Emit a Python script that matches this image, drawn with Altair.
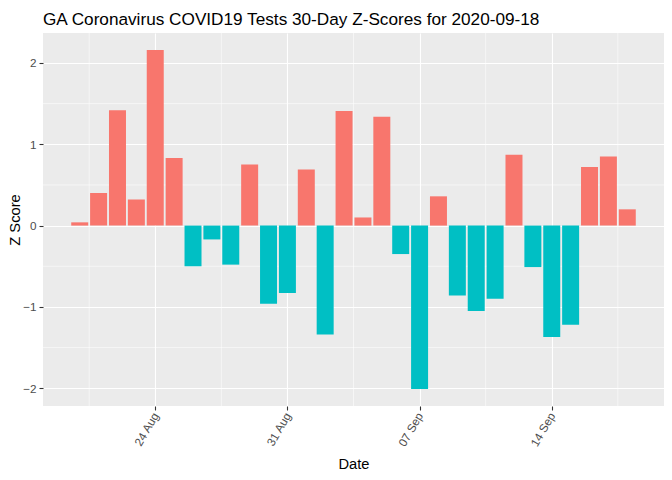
import altair as alt
import pandas as pd

# ---- data ----
dates = [
    "2020-08-20", "2020-08-21", "2020-08-22", "2020-08-23", "2020-08-24",
    "2020-08-25", "2020-08-26", "2020-08-27", "2020-08-28", "2020-08-29",
    "2020-08-30", "2020-08-31", "2020-09-01", "2020-09-02", "2020-09-03",
    "2020-09-04", "2020-09-05", "2020-09-06", "2020-09-07", "2020-09-08",
    "2020-09-09", "2020-09-10", "2020-09-11", "2020-09-12", "2020-09-13",
    "2020-09-14", "2020-09-15", "2020-09-16", "2020-09-17", "2020-09-18",
]
z_scores = [
    0.04, 0.40, 1.42, 0.32, 2.16,
    0.83, -0.50, -0.17, -0.48, 0.75,
    -0.96, -0.83, 0.69, -1.34, 1.41,
    0.10, 1.34, -0.35, -2.01, 0.36,
    -0.86, -1.05, -0.90, 0.87, -0.51,
    -1.37, -1.22, 0.72, 0.85, 0.20,
]
tick_dates = ["2020-08-24", "2020-08-31", "2020-09-07", "2020-09-14"]
minor_x_dates = ["2020-08-20 12:00", "2020-08-27 12:00", "2020-09-03 12:00",
                 "2020-09-10 12:00", "2020-09-17 12:00"]
y_ticks = [-2, -1, 0, 1, 2]
y_minor = [-1.5, -0.5, 0.5, 1.5]

title_text = "GA Coronavirus COVID19 Tests 30-Day Z-Scores for 2020-09-18"

# ---- build tables ----
origin = pd.Timestamp(dates[0])
def day_of(s):
    return (pd.Timestamp(s) - origin) / pd.Timedelta(days=1)

df = pd.DataFrame({"date": dates, "z": z_scores})
df["day"] = [day_of(d) for d in dates]
df["sign"] = ["pos" if v >= 0 else "neg" for v in z_scores]

tick_vals = [day_of(d) for d in tick_dates]
tick_labels = [pd.Timestamp(d).strftime("%d %b") for d in tick_dates]
label_map = "{" + ",".join(f"'{int(v)}':'{l}'" for v, l in zip(tick_vals, tick_labels)) + "}"

minor_x = pd.DataFrame({"day": [day_of(d) for d in minor_x_dates]})
minor_y = pd.DataFrame({"z": y_minor})

n = len(dates)
pad = 0.05 * ((n - 1) + 0.9)
x_domain = [-0.45 - pad, (n - 1) + 0.45 + pad]
zmin, zmax = min(z_scores), max(z_scores)
ypad = 0.05 * (zmax - zmin)
y_domain = [zmin - ypad, zmax + ypad]

W, H = 621, 373
font = "Liberation Sans"
xscale = alt.Scale(domain=x_domain, nice=False, zero=False)
yscale = alt.Scale(domain=y_domain, nice=False, zero=False)

x_axis = alt.Axis(
    values=tick_vals, labelExpr=f"{label_map}[''+datum.value]",
    grid=True, gridColor="white", gridWidth=1.1,
    domain=False, ticks=True, tickColor="#333333", tickSize=4, tickWidth=1.1,
    labelAngle=300, labelAlign="right", labelBaseline="middle",
    labelFont=font, labelFontSize=11.7, labelColor="#4D4D4D", labelPadding=3,
    title="Date", titleFont=font, titleFontSize=14.7, titleFontWeight="normal",
    titleColor="black", titlePadding=8,
)
y_axis = alt.Axis(
    values=y_ticks, grid=True, gridColor="white", gridWidth=1.1,
    domain=False, ticks=True, tickColor="#333333", tickSize=4, tickWidth=1.1,
    labelFont=font, labelFontSize=11.7, labelColor="#4D4D4D", labelPadding=3,
    title="Z Score", titleFont=font, titleFontSize=14.7, titleFontWeight="normal",
    titleColor="black", titleX=-21, titleY=H / 2, titleAngle=270,
    titleAlign="center", titleBaseline="bottom",
)

minor_x_layer = alt.Chart(minor_x).mark_rule(color="white", strokeWidth=0.55).encode(
    x=alt.X("day:Q", scale=xscale, axis=x_axis)
)
minor_y_layer = alt.Chart(minor_y).mark_rule(color="white", strokeWidth=0.55).encode(
    y=alt.Y("z:Q", scale=yscale, axis=y_axis)
)

bars = alt.Chart(df).transform_calculate(
    x0="datum.day - 0.45", x1="datum.day + 0.45", base="0"
).mark_bar().encode(
    x=alt.X("x0:Q", scale=xscale, axis=x_axis),
    x2="x1:Q",
    y=alt.Y("z:Q", scale=yscale, axis=y_axis),
    y2="base:Q",
    color=alt.Color("sign:N", scale=alt.Scale(domain=["pos", "neg"],
                                              range=["#F8766D", "#00BFC4"]),
                    legend=None),
)

chart = alt.layer(minor_x_layer, minor_y_layer, bars).properties(
    width=W, height=H,
    autosize=alt.AutoSizeParams(type="none"),
    padding={"left": 35, "top": 25, "right": 0, "bottom": 66},
    title=alt.TitleParams(text=title_text, anchor="start", frame="group",
                          font=font, fontSize=17.2, fontWeight="normal",
                          color="black", offset=5),
).configure_view(fill="#EBEBEB", stroke=None)

chart.save("out.html", embed_options={"renderer": "svg", "actions": False})
